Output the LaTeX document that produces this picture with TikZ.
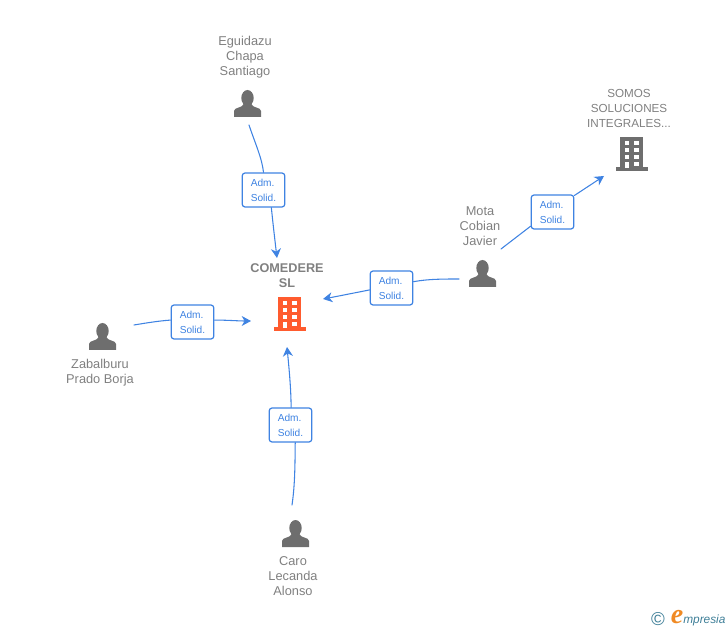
\documentclass[tikz,border=0pt]{standalone}
\usepackage{fontspec}
\setmainfont{Liberation Sans}
\newfontfamily\logofont{Liberation Serif}
\usetikzlibrary{arrows.meta}
\definecolor{linkblue}{HTML}{3F83E2}
\definecolor{icongray}{HTML}{6E6E6E}
\definecolor{labelgray}{HTML}{808080}
\definecolor{mainorange}{HTML}{FF5B2E}
\definecolor{logoteal}{HTML}{3F7F98}
\definecolor{logoorange}{HTML}{F08A24}
\tikzset{
  namelabel/.style={text=labelgray, font=\fontsize{9.6}{11.25}\selectfont, align=center, inner sep=0pt},
  mainlabel/.style={text=labelgray, font=\fontsize{9.5}{11.25}\selectfont\bfseries, align=center, inner sep=0pt},
  rolebox/.style={draw=linkblue, fill=white, rounded corners=2.2pt, line width=0.95pt, minimum width=32pt, minimum height=25.5pt,
    text=linkblue, font=\fontsize{7.6}{11.25}\selectfont, align=left, inner sep=0pt, text height=19pt, text depth=1.2pt},
  link/.style={draw=linkblue, line width=0.8pt},
  linkarrow/.style={link, -{Stealth[length=7pt,width=7.5pt,inset=2.2pt]}},
  personicon/.pic={
    \fill[icongray] (0,-5.5) ellipse (6.2 and 8);
    \fill[icongray] (-13.5,13.5) -- (-13.5,7.5) .. controls (-13.5,3.5) and (-5,5) .. (-3.5,0) -- (3.5,0) .. controls (5,5) and (13.5,3.5) .. (13.5,7.5) -- (13.5,13.5) -- cycle;
  },
  buildingicon/.pic={
    \fill[#1] (-11.5,-17) rectangle (11.5,13);
    \fill[#1] (-16,13) rectangle (16,17);
    \fill[white] (-7,-13) rectangle (-2.3,-9);
    \fill[white] (2.3,-13) rectangle (7,-9);
    \fill[white] (-7,-6) rectangle (-2.3,-2);
    \fill[white] (2.3,-6) rectangle (7,-2);
    \fill[white] (-7,1) rectangle (-2.3,5);
    \fill[white] (2.3,1) rectangle (7,5);
    \fill[white] (-7,8) rectangle (-2.3,14);
    \fill[white] (2.3,8) rectangle (7,12);
  }
}
\begin{document}
\begin{tikzpicture}[x=0.75pt, y=-0.75pt, line cap=round, line join=round]
\useasboundingbox (0,0) rectangle (728,630);

% names and icons
\node[namelabel] (eguidazu) at (245,57.3) {Eguidazu\\Chapa\\Santiago};
\pic at (247.5,103.5) {personicon};
\node[namelabel] (mota) at (480,226) {Mota\\Cobian\\Javier};
\pic at (482.5,273.5) {personicon};
\node[namelabel] (zabalburu) at (100,372.8) {Zabalburu\\Prado Borja};
\pic at (102.5,336.5) {personicon};
\node[namelabel] (caro) at (293,576) {Caro\\Lecanda\\Alonso};
\pic at (295.5,533.5) {personicon};

\node[mainlabel] (comedere) at (287,275.5) {COMEDERE\\SL};
\pic at (289.5,314) {buildingicon=mainorange};
\node[namelabel, font=\fontsize{8.75}{11.25}\selectfont] (somos) at (629,108.5) {SOMOS\\SOLUCIONES\\INTEGRALES...};
\pic at (631.5,154) {buildingicon=icongray};

% free ends of the links
\coordinate (eguidazuout) at (249,125);
\coordinate (comederetop) at (277,258);
\coordinate (motaleft) at (459,279);
\coordinate (comedereright) at (323,299);
\coordinate (motaright) at (501,249);
\coordinate (somosin) at (604,176);
\coordinate (zabalburuout) at (134,325);
\coordinate (comedereleft) at (251,321);
\coordinate (caroout) at (292,505);
\coordinate (comederebottom) at (287,347);

% role boxes
\node[rolebox] (boxeguidazu) at (263.5,190) {Adm.\\Solid.};
\node[rolebox] (boxmotamain) at (391.5,288) {Adm.\\Solid.};
\node[rolebox] (boxmotasomos) at (552.5,212) {Adm.\\Solid.};
\node[rolebox] (boxzabalburu) at (192.5,322) {Adm.\\Solid.};
\node[rolebox] (boxcaro) at (290.5,425) {Adm.\\Solid.};

%---------------------------------------------------------------------------------------------------
\draw[link] (eguidazuout) .. controls (255,143) and (262,158) .. (boxeguidazu.north);
\draw[linkarrow] (boxeguidazu.-66) .. controls (273,224) and (275,241) .. (comederetop);
\draw[link] (motaleft) .. controls (443,279) and (428,279) .. (boxmotamain.16);
\draw[linkarrow] (boxmotamain.185) .. controls (354,293) and (339,296) .. (comedereright);
\draw[link] (motaright) -- (boxmotasomos.213);
\draw[linkarrow] (boxmotasomos.37) -- (somosin);
\draw[link] (zabalburuout) .. controls (146,323) and (158,321) .. (boxzabalburu.175);
\draw[linkarrow] (boxzabalburu.5) .. controls (226,320) and (238,321) .. (comedereleft);
\draw[link] (caroout) .. controls (295,485) and (295,464) .. (boxcaro.-75);
\draw[linkarrow] (boxcaro.88) .. controls (291,388) and (289,368) .. (comederebottom);

%---------------------------------------------------------------------------------------------------
\node[text=logoteal, font=\fontsize{14}{14}\selectfont, inner sep=0pt] (logoc) at (658,619) {©};
\node[text=logoorange, font=\logofont\itshape\bfseries\fontsize{21}{21}\selectfont, inner sep=0pt] (logoe) at (677,617) {e};
\node[text=logoteal, font=\itshape\fontsize{8.9}{10}\selectfont, inner sep=0pt, anchor=west] (logoname) at (683,620) {mpresia};
\end{tikzpicture}
\end{document}
